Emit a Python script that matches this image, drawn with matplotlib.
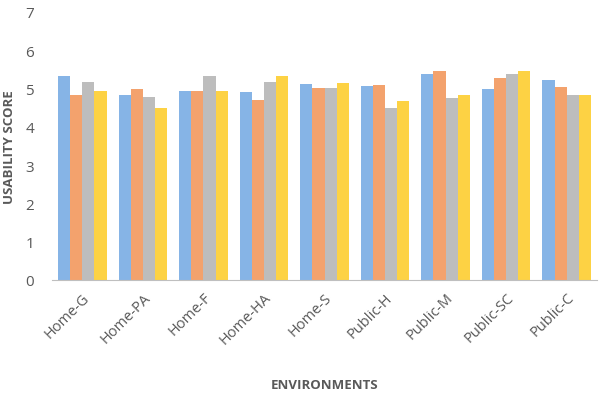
import matplotlib
matplotlib.use('Agg')
import matplotlib.pyplot as plt
import numpy as np

plt.rcParams['font.family'] = ['Open Sans', 'DejaVu Sans']

environments = ['Home-G', 'Home-PA', 'Home-F', 'Home-HA', 'Home-S',
                'Public-H', 'Public-M', 'Public-SC', 'Public-C']
series1 = [5.33, 4.83, 4.93, 4.91, 5.12, 5.07, 5.38, 4.99, 5.22]
series2 = [4.83, 4.99, 4.93, 4.70, 5.01, 5.09, 5.46, 5.27, 5.04]
series3 = [5.17, 4.78, 5.33, 5.17, 5.01, 4.49, 4.75, 5.38, 4.83]
series4 = [4.93, 4.49, 4.93, 5.33, 5.14, 4.67, 4.83, 5.46, 4.83]

colors = ['#86B4E6', '#F3A26D', '#BDBDBD', '#FDD244']

fig = plt.figure(figsize=(6.06, 4.02), dpi=100)
ax = fig.add_axes([0.086, 0.301, 0.899, 0.667])

x = np.arange(len(environments))
w = 0.2
for i, s in enumerate([series1, series2, series3, series4]):
    ax.bar(x + (i - 1.5) * w, s, width=w, color=colors[i])

ax.set_xlim(-0.5, len(environments) - 0.5)
ax.set_ylim(0, 7)
ax.set_yticks(range(0, 8))
ax.set_xticks(x)
ax.set_xticklabels(environments, rotation=45, ha='right', rotation_mode='anchor')
ax.tick_params(axis='x', length=0, colors='#595959', labelsize=10.5, pad=7)
ax.tick_params(axis='y', length=0, colors='#595959', labelsize=11, pad=13)

for sp in ['top', 'right', 'left']:
    ax.spines[sp].set_visible(False)
ax.spines['bottom'].set_color('#BFBFBF')

ax.set_ylabel('USABILITY SCORE', fontsize=9.5, fontweight='bold', color='#595959', labelpad=7)
ax.set_xlabel('ENVIRONMENTS', fontsize=9.5, fontweight='bold', color='#595959', labelpad=22)

fig.savefig('out.png', dpi=100)
